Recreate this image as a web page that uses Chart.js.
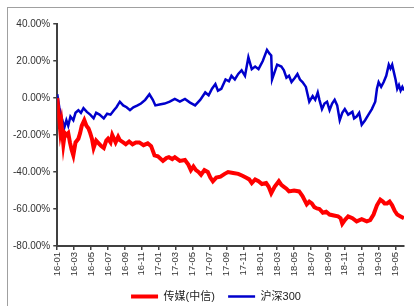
<!DOCTYPE html>
<html>
<head>
<meta charset="utf-8">
<script src="https://cdn.jsdelivr.net/npm/chart.js@4/dist/chart.umd.min.js"></script>
<style>
  body { margin: 0; background: #fff; }
  #frame { position: absolute; left: 7px; top: 7px; width: 420px; height: 320px; border-left: 1px solid #a0a0a0; border-top: 1px solid #a0a0a0; }
  #wrap { position: absolute; left: 0; top: 0; width: 414px; height: 306px; }
</style>
</head>
<body>
<div id="frame"></div>
<div id="wrap"><canvas id="myChart"></canvas></div>
<script>
// x = months since 2016-01
var seriesNames = ['传媒(中信)', '沪深300']
var tickLabels = ['16-01','16-03','16-05','16-07','16-09','16-11','17-01','17-03','17-05','17-07','17-09','17-11',
                  '18-01','18-03','18-05','18-07','18-09','18-11','19-01','19-03','19-05']
var mediaMonths = [0,0.12,0.36,0.5,0.72,0.9,1.08,1.3,1.5,1.7,1.9,2.16,2.5,2.7,2.9,3.2,3.45,3.7,3.9,4.1,4.3,4.6,4.9,5.2,5.5,5.8,6.0,6.3,6.5,6.9,7.2,
                   7.4,7.8,8.1,8.5,8.9,9.3,9.7,10.2,10.7,11.1,11.5,11.9,12.5,12.9,13.2,13.6,13.9,14.5,15.1,15.5,15.8,16.1,16.4,16.7,17.0,17.4,
                   17.8,18.1,18.4,18.8,19.3,19.8,20.2,20.8,21.4,21.9,22.3,22.7,23.0,23.4,23.8,24.2,24.7,25.0,25.3,25.7,26.2,26.5,26.8,27.1,27.4,
                   28.0,28.6,29.0,29.5,29.8,30.1,30.4,30.7,31.0,31.4,31.8,32.2,32.7,33.2,33.5,33.7,34.0,34.4,34.9,35.4,36.0,36.6,37.0,37.4,
                   37.8,38.2,38.5,38.7,39.0,39.3,39.6,39.9,40.2,40.6,41.0]
var mediaValues = [0,-6,-18,-14,-25,-19,-20,-19,-24,-28,-31,-24,-22,-19,-15,-12,-15,-16.5,-19,-22,-27,-23,-24.5,-26,-27,-23,-22,-24,-20,-24,-21,
                   -22.8,-24,-25,-23.5,-25,-24,-24,-25.5,-24.5,-26,-31,-31.5,-34,-32.5,-32,-33,-32,-34,-33.5,-36,-39,-37,-39,-40,-41.5,-39,
                   -40,-43,-45,-43,-42.5,-41,-40,-40.5,-41,-42,-43,-44,-46,-44,-45,-46.5,-46,-48,-51.5,-48,-45,-47,-48,-49,-50.5,
                   -50,-50.5,-53,-57.5,-56,-57,-59,-59.7,-60,-62,-61.5,-63,-63.5,-64,-65,-68,-66,-64,-65,-66.7,-65.5,-66.7,-66,-63,
                   -58,-55,-56,-57,-57,-56,-58,-61,-63,-64,-65]
var hs300Months = [0,0.24,0.6,0.84,1.08,1.3,1.56,1.9,2.16,2.5,2.8,3.1,3.5,3.9,4.3,4.6,5.0,5.5,5.9,6.3,6.7,7.0,7.4,7.8,8.2,8.6,9.0,9.5,9.9,
                   10.4,10.9,11.3,11.6,12.1,12.7,13.3,13.9,14.5,15.1,15.7,16.3,16.9,17.5,17.9,18.3,18.7,19.0,19.4,19.9,20.3,20.6,21.0,21.4,
                   21.8,22.2,22.6,23.0,23.4,23.8,24.3,24.8,25.1,25.3,25.4,25.7,26.0,26.5,26.8,27.1,27.4,27.7,28.1,28.4,28.7,29.0,29.4,29.8,
                   30.2,30.5,30.8,31.0,31.3,31.6,31.9,32.2,32.5,32.8,33.1,33.4,33.7,34.0,34.4,34.9,35.1,35.4,35.7,36.0,36.4,36.8,37.2,37.6,
                   37.8,38.0,38.3,38.6,38.9,39.2,39.4,39.6,39.8,40.0,40.2,40.4,40.6,40.8,41.0]
var hs300Values = [2,-5,-12,-16,-12,-15,-10,-12,-8,-6.6,-8,-5.5,-7.5,-9,-11,-8,-9,-11,-8.5,-9,-6.6,-5,-2,-4,-5,-6.6,-5,-4,-3,
                   -1,2,-1,-4,-3.5,-3,-2,-0.5,-2,-0.5,-2.5,-4,-1,3,1.5,5,7.5,4,5,10,9,12,10,13,
                   15,12,22,15.6,17,15.6,20,26,24,23,10,14,18,17,15,11,12,8.6,11,13,10,8.6,6,-2,
                   1,-1,3,-1,-6,-3,-2,-6.6,-3,-1,-4,-12,-8,-6,-9,-7.5,-11,-10,-8,-14.5,-12,-9,-6,-2,
                   5,8.6,6,8.6,12,18,16,18,14,10,5,7,4,6,4]

function toPoints(xs, ys){
    var pts = []
    for (var i = 0; i < xs.length; i++) pts.push({x: xs[i], y: ys[i]})
    return pts
}

var fontFamily = "'Liberation Sans', 'Noto Sans CJK SC', sans-serif"
var axisColor = '#404040'

// nudge the legend a bit right and down, like the original
var legendShift = {
    id: 'legendShift',
    afterLayout: function(chart){
        chart.legend.left += 9
        chart.legend.right += 9
        chart.legend.top += 6
        chart.legend.bottom += 6
    }
}

var ctx = document.getElementById('myChart').getContext('2d')
var chart = new Chart(ctx, {
    type: 'line',
    data: {
        datasets: [
            {
                label: seriesNames[0],
                data: toPoints(mediaMonths, mediaValues),
                borderColor: '#ff0000',
                backgroundColor: '#ff0000',
                borderWidth: 4,
                pointRadius: 0
            },
            {
                label: seriesNames[1],
                data: toPoints(hs300Months, hs300Values),
                borderColor: '#0000cc',
                backgroundColor: '#0000cc',
                borderWidth: 2.5,
                pointRadius: 0
            }
        ]
    },
    plugins: [legendShift],
    options: {
        responsive: true,
        maintainAspectRatio: false,
        animation: false,
        layout: { padding: { left: 10, right: 10, top: 24, bottom: 0 } },
        plugins: {
            tooltip: { enabled: false },
            legend: {
                position: 'bottom',
                labels: {
                    usePointStyle: true,
                    pointStyle: 'line',
                    pointStyleWidth: 27,
                    boxHeight: 8,
                    padding: 1,
                    color: '#222',
                    font: { family: fontFamily, size: 11 },
                    // small padding keeps the legend low, so space the items with the text
                    generateLabels: function(c){
                        var items = Chart.defaults.plugins.legend.labels.generateLabels(c)
                        items[0].text += '    '
                        return items
                    }
                }
            }
        },
        scales: {
            x: {
                type: 'linear',
                min: 0,
                max: 41,
                afterFit: function(scale){ scale.height = 38 },
                grid: { display: true, drawOnChartArea: false, drawTicks: true, tickLength: 4, color: axisColor, lineWidth: 1.5 },
                border: { display: true, color: axisColor, width: 2 },
                ticks: {
                    stepSize: 2,
                    includeBounds: false,
                    autoSkip: false,
                    minRotation: 90,
                    maxRotation: 90,
                    padding: 2,
                    color: '#333',
                    font: { family: fontFamily, size: 9.5 },
                    callback: function(v){ return tickLabels[v / 2] }
                }
            },
            y: {
                min: -80,
                max: 40,
                grid: { display: true, drawOnChartArea: false, drawTicks: true, tickLength: 4, color: axisColor, lineWidth: 1.5 },
                border: { display: true, color: axisColor, width: 2 },
                ticks: {
                    stepSize: 20,
                    padding: 3,
                    color: '#333',
                    font: { family: fontFamily, size: 10 },
                    callback: function(v){ return v.toFixed(2) + '%' }
                }
            }
        }
    }
})
</script>
</body>
</html>
